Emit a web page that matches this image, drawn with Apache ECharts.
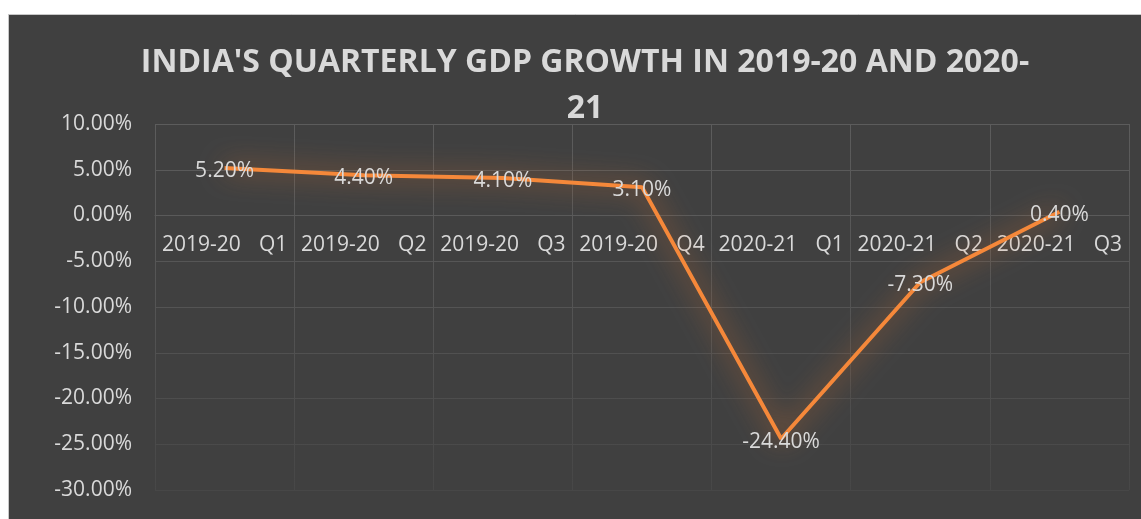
<!DOCTYPE html>
<html>
<head>
<meta charset="utf-8">
<script src="https://cdn.jsdelivr.net/npm/echarts@6/dist/echarts.min.js"></script>
<style>
  html, body { margin: 0; padding: 0; background: #ffffff; }
  #chart { width: 1141px; height: 519px; }
</style>
</head>
<body>
<div id="chart"></div>
<script>
// Quarterly real GDP growth, year-on-year (%)
const quarters = ['2019-20 Q1', '2019-20 Q2', '2019-20 Q3', '2019-20 Q4', '2020-21 Q1', '2020-21 Q2', '2020-21 Q3'];
const growth = [5.2, 4.4, 4.1, 3.1, -24.4, -7.3, 0.4];
const yMin = -30, yMax = 10, yStep = 5;
const titleText = "INDIA'S QUARTERLY GDP GROWTH IN 2019-20 AND 2020-\n21";

const textColor = '#d9d9d9';
const font = 'Open Sans';

// plot box
const gridTop = 124, gridBottom = 29, chartH = 519;
const plotH = chartH - gridTop - gridBottom;
// the category axis sits on the zero line: lift it from the bottom edge
const zeroLift = plotH * (0 - yMin) / (yMax - yMin);

// gridlines fade slightly towards the bottom of the plot
const gridColor = new echarts.graphic.LinearGradient(0, gridTop, 0, chartH - gridBottom, [
  { offset: 0, color: '#5c5c5c' },
  { offset: 0.5, color: '#545454' },
  { offset: 1, color: '#474747' }
], true);

const chart = echarts.init(document.getElementById('chart'), null, { renderer: 'canvas' });
chart.setOption({
  backgroundColor: '#ffffff',
  animation: false,
  graphic: [{
    type: 'rect',
    z: -10,
    shape: { x: 8.5, y: 14.5, width: 1140, height: 510 },
    style: { fill: '#404040', stroke: '#c8c8c8', lineWidth: 1 }
  }],
  title: {
    text: titleText,
    left: 580,
    top: 35,
    textAlign: 'center',
    textStyle: {
      color: textColor,
      fontFamily: font,
      fontWeight: 'bold',
      fontSize: 32,
      lineHeight: 46
    }
  },
  grid: { left: 155, top: gridTop, right: 12, bottom: gridBottom, containLabel: false },
  xAxis: {
    type: 'category',
    data: quarters,
    boundaryGap: true,
    position: 'bottom',
    offset: -zeroLift,
    axisLine: { onZero: false, lineStyle: { color: '#5a5a5a', width: 1 } },
    axisTick: { show: false },
    splitLine: { show: true, lineStyle: { color: gridColor, width: 1 } },
    axisLabel: {
      margin: 19,
      interval: 0,
      color: textColor,
      fontFamily: font,
      fontSize: 21,
      formatter: v => {
        const p = v.split(' ');
        return '{y|' + p[0] + '}{q|' + p[1] + '}';
      },
      rich: {
        y: { color: textColor, fontFamily: font, fontSize: 21, width: 97, align: 'left' },
        q: { color: textColor, fontFamily: font, fontSize: 21 }
      }
    }
  },
  yAxis: {
    type: 'value',
    min: yMin,
    max: yMax,
    interval: yStep,
    axisLine: { show: false },
    axisTick: { show: false },
    splitLine: { show: true, lineStyle: { color: gridColor, width: 1 } },
    axisLabel: {
      margin: 23,
      color: textColor,
      fontFamily: font,
      fontSize: 21,
      formatter: v => v.toFixed(2) + '%'
    }
  },
  series: [{
    type: 'line',
    data: growth,
    symbol: 'circle',
    symbolSize: 1,
    itemStyle: { color: 'rgba(0,0,0,0)' },
    lineStyle: {
      color: '#f5883a',
      width: 4,
      shadowColor: 'rgba(230,120,45,0.9)',
      shadowBlur: 26
    },
    label: {
      show: true,
      position: 'inside',
      offset: [0, 3],
      color: textColor,
      fontFamily: font,
      fontSize: 21,
      formatter: p => p.value.toFixed(2) + '%'
    }
  }]
});
</script>
</body>
</html>
